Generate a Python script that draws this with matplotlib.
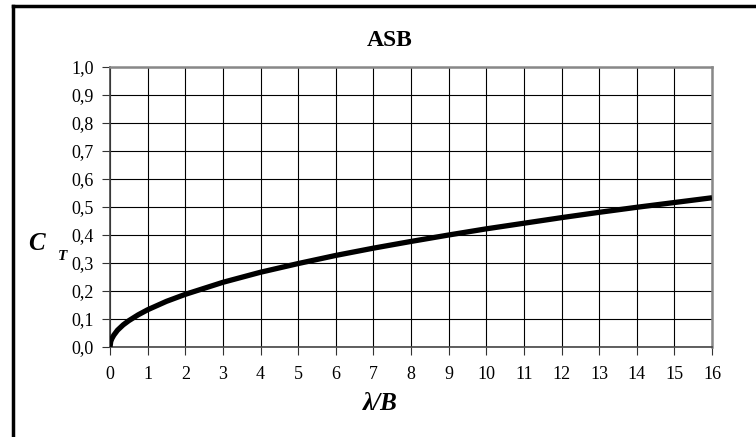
import matplotlib
matplotlib.use("Agg")
import matplotlib.pyplot as plt
from matplotlib.lines import Line2D

# Data
lam_b = [0, 0.02, 0.05, 0.1, 0.2, 0.35, 0.5, 0.75, 1, 1.5, 2, 3, 4, 5, 6, 7, 8,
         9, 10, 11, 12, 13, 14, 15, 16]
ct = [0.0, 0.02, 0.03, 0.042, 0.06, 0.079, 0.094, 0.115, 0.133, 0.163, 0.188,
      0.231, 0.267, 0.298, 0.327, 0.353, 0.377, 0.40, 0.422, 0.442, 0.462,
      0.481, 0.499, 0.516, 0.533]
x_ticks = list(range(0, 17))
y_ticks = [i / 10 for i in range(0, 11)]
y_tick_labels = [f"{v:.1f}".replace(".", ",") for v in y_ticks]
title = "ASB"

plt.rcParams['font.family'] = ['Liberation Serif', 'DejaVu Serif']

fig = plt.figure(figsize=(7.56, 4.37), dpi=100)
W, H = 756, 437
ax = fig.add_axes([110 / W, 1 - 347 / H, (712 - 110) / W, (347 - 67) / H])

ax.plot(lam_b, ct, color='black', lw=3.8, solid_capstyle='butt', zorder=3)
ax.set_xlim(0, 16)
ax.set_ylim(0, 1.0)
ax.set_xticks(x_ticks)
ax.set_xticklabels([str(v) for v in x_ticks])
ax.set_yticks(y_ticks)
ax.set_yticklabels(y_tick_labels)
ax.grid(True, color='black', lw=0.8)
ax.set_axisbelow(True)
ax.tick_params(axis='both', direction='out', length=5.5, width=0.8,
               color='#333333', labelsize=13)
ax.tick_params(axis='y', pad=6)
ax.tick_params(axis='x', pad=8)
for s in ['left', 'bottom']:
    ax.spines[s].set_color('#444444')
    ax.spines[s].set_linewidth(1.2)
for s in ['top', 'right']:
    ax.spines[s].set_color('#888888')
    ax.spines[s].set_linewidth(1.8)

fig.text(390 / W, 1 - 41 / H, title, ha='center', va='center',
         fontsize=17, fontweight='bold')
fig.text(380 / W, 1 - 403 / H, "λ/B", ha='center', va='center',
         fontsize=18, fontweight='bold', fontstyle='italic')
fig.text(36 / W, 1 - 243 / H, "C", ha='center', va='center',
         fontsize=18, fontweight='bold', fontstyle='italic')
fig.text(63 / W, 1 - 256 / H, "T", ha='center', va='center',
         fontsize=11, fontweight='bold', fontstyle='italic')

# outer chart border (top and left edges visible)
fig.add_artist(Line2D([13 / W, 1.0], [1 - 6 / H, 1 - 6 / H],
                      transform=fig.transFigure, color='black', lw=2.5))
fig.add_artist(Line2D([13 / W, 13 / W], [0, 1 - 6 / H],
                      transform=fig.transFigure, color='black', lw=2.5))

fig.savefig("out.png", dpi=100)
